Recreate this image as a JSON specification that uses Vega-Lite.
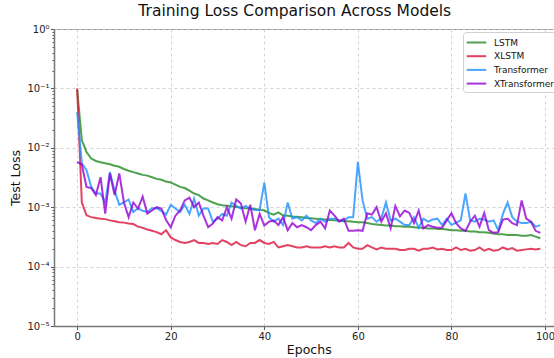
{
  "$schema": "https://vega.github.io/schema/vega-lite/v6.json",
  "width": 509.5,
  "height": 297,
  "autosize": {"type": "none"},
  "padding": {"left": 54, "top": 29, "right": 0, "bottom": 32},
  "background": "white",
  "title": {"text": "Training Loss Comparison Across Models", "font": "DejaVu Sans", "fontSize": 15.5, "fontWeight": "normal", "color": "#111", "offset": 5, "anchor": "middle", "frame": "group", "dx": -14},
  "data": {"values": [
    {"epoch":0,"model":"LSTM","loss":0.095},{"epoch":1,"model":"LSTM","loss":0.0134},{"epoch":2,"model":"LSTM","loss":0.0085},{"epoch":3,"model":"LSTM","loss":0.0066},{"epoch":4,"model":"LSTM","loss":0.006},{"epoch":5,"model":"LSTM","loss":0.0057},{"epoch":6,"model":"LSTM","loss":0.0055},{"epoch":7,"model":"LSTM","loss":0.0053},{"epoch":8,"model":"LSTM","loss":0.005},{"epoch":9,"model":"LSTM","loss":0.0048},
    {"epoch":10,"model":"LSTM","loss":0.0044},{"epoch":11,"model":"LSTM","loss":0.0041},{"epoch":12,"model":"LSTM","loss":0.0039},{"epoch":13,"model":"LSTM","loss":0.0037},{"epoch":14,"model":"LSTM","loss":0.0035},{"epoch":15,"model":"LSTM","loss":0.0034},{"epoch":16,"model":"LSTM","loss":0.0032},{"epoch":17,"model":"LSTM","loss":0.003},{"epoch":18,"model":"LSTM","loss":0.0029},{"epoch":19,"model":"LSTM","loss":0.0027},
    {"epoch":20,"model":"LSTM","loss":0.0026},{"epoch":21,"model":"LSTM","loss":0.0024},{"epoch":22,"model":"LSTM","loss":0.0022},{"epoch":23,"model":"LSTM","loss":0.0021},{"epoch":24,"model":"LSTM","loss":0.0019},{"epoch":25,"model":"LSTM","loss":0.0017},{"epoch":26,"model":"LSTM","loss":0.0016},{"epoch":27,"model":"LSTM","loss":0.0014},{"epoch":28,"model":"LSTM","loss":0.0013},{"epoch":29,"model":"LSTM","loss":0.0012},
    {"epoch":30,"model":"LSTM","loss":0.00112},{"epoch":31,"model":"LSTM","loss":0.00108},{"epoch":32,"model":"LSTM","loss":0.00106},{"epoch":33,"model":"LSTM","loss":0.00104},{"epoch":34,"model":"LSTM","loss":0.00101},{"epoch":35,"model":"LSTM","loss":0.00099},{"epoch":36,"model":"LSTM","loss":0.00096},{"epoch":37,"model":"LSTM","loss":0.00095},{"epoch":38,"model":"LSTM","loss":0.00093},{"epoch":39,"model":"LSTM","loss":0.00091},
    {"epoch":40,"model":"LSTM","loss":0.00088},{"epoch":41,"model":"LSTM","loss":0.0008},{"epoch":42,"model":"LSTM","loss":0.00075},{"epoch":43,"model":"LSTM","loss":0.00082},{"epoch":44,"model":"LSTM","loss":0.00073},{"epoch":45,"model":"LSTM","loss":0.00072},{"epoch":46,"model":"LSTM","loss":0.0007},{"epoch":47,"model":"LSTM","loss":0.00069},{"epoch":48,"model":"LSTM","loss":0.00068},{"epoch":49,"model":"LSTM","loss":0.00066},
    {"epoch":50,"model":"LSTM","loss":0.00065},{"epoch":51,"model":"LSTM","loss":0.00064},{"epoch":52,"model":"LSTM","loss":0.00063},{"epoch":53,"model":"LSTM","loss":0.00062},{"epoch":54,"model":"LSTM","loss":0.00061},{"epoch":55,"model":"LSTM","loss":0.0006},{"epoch":56,"model":"LSTM","loss":0.00059},{"epoch":57,"model":"LSTM","loss":0.00058},{"epoch":58,"model":"LSTM","loss":0.00058},{"epoch":59,"model":"LSTM","loss":0.00057},
    {"epoch":60,"model":"LSTM","loss":0.00056},{"epoch":61,"model":"LSTM","loss":0.00056},{"epoch":62,"model":"LSTM","loss":0.00054},{"epoch":63,"model":"LSTM","loss":0.00052},{"epoch":64,"model":"LSTM","loss":0.00051},{"epoch":65,"model":"LSTM","loss":0.0005},{"epoch":66,"model":"LSTM","loss":0.00049},{"epoch":67,"model":"LSTM","loss":0.00049},{"epoch":68,"model":"LSTM","loss":0.00048},{"epoch":69,"model":"LSTM","loss":0.00048},
    {"epoch":70,"model":"LSTM","loss":0.00047},{"epoch":71,"model":"LSTM","loss":0.00047},{"epoch":72,"model":"LSTM","loss":0.00046},{"epoch":73,"model":"LSTM","loss":0.00045},{"epoch":74,"model":"LSTM","loss":0.00045},{"epoch":75,"model":"LSTM","loss":0.00044},{"epoch":76,"model":"LSTM","loss":0.00044},{"epoch":77,"model":"LSTM","loss":0.00043},{"epoch":78,"model":"LSTM","loss":0.00043},{"epoch":79,"model":"LSTM","loss":0.00042},
    {"epoch":80,"model":"LSTM","loss":0.00041},{"epoch":81,"model":"LSTM","loss":0.00041},{"epoch":82,"model":"LSTM","loss":0.0004},{"epoch":83,"model":"LSTM","loss":0.0004},{"epoch":84,"model":"LSTM","loss":0.00039},{"epoch":85,"model":"LSTM","loss":0.00039},{"epoch":86,"model":"LSTM","loss":0.00038},{"epoch":87,"model":"LSTM","loss":0.00038},{"epoch":88,"model":"LSTM","loss":0.00037},{"epoch":89,"model":"LSTM","loss":0.00036},
    {"epoch":90,"model":"LSTM","loss":0.00035},{"epoch":91,"model":"LSTM","loss":0.00035},{"epoch":92,"model":"LSTM","loss":0.00034},{"epoch":93,"model":"LSTM","loss":0.00034},{"epoch":94,"model":"LSTM","loss":0.00034},{"epoch":95,"model":"LSTM","loss":0.00033},{"epoch":96,"model":"LSTM","loss":0.00033},{"epoch":97,"model":"LSTM","loss":0.00034},{"epoch":98,"model":"LSTM","loss":0.00032},{"epoch":99,"model":"LSTM","loss":0.0003},

    {"epoch":0,"model":"XLSTM","loss":0.1},{"epoch":1,"model":"XLSTM","loss":0.0012},{"epoch":2,"model":"XLSTM","loss":0.00073},{"epoch":3,"model":"XLSTM","loss":0.00068},{"epoch":4,"model":"XLSTM","loss":0.00066},{"epoch":5,"model":"XLSTM","loss":0.00064},{"epoch":6,"model":"XLSTM","loss":0.00063},{"epoch":7,"model":"XLSTM","loss":0.0006},{"epoch":8,"model":"XLSTM","loss":0.00058},{"epoch":9,"model":"XLSTM","loss":0.00056},
    {"epoch":10,"model":"XLSTM","loss":0.00055},{"epoch":11,"model":"XLSTM","loss":0.00053},{"epoch":12,"model":"XLSTM","loss":0.00052},{"epoch":13,"model":"XLSTM","loss":0.00047},{"epoch":14,"model":"XLSTM","loss":0.00045},{"epoch":15,"model":"XLSTM","loss":0.00042},{"epoch":16,"model":"XLSTM","loss":0.0004},{"epoch":17,"model":"XLSTM","loss":0.00038},{"epoch":18,"model":"XLSTM","loss":0.00035},{"epoch":19,"model":"XLSTM","loss":0.00041},
    {"epoch":20,"model":"XLSTM","loss":0.00031},{"epoch":21,"model":"XLSTM","loss":0.00028},{"epoch":22,"model":"XLSTM","loss":0.00026},{"epoch":23,"model":"XLSTM","loss":0.00025},{"epoch":24,"model":"XLSTM","loss":0.00026},{"epoch":25,"model":"XLSTM","loss":0.00028},{"epoch":26,"model":"XLSTM","loss":0.00025},{"epoch":27,"model":"XLSTM","loss":0.00025},{"epoch":28,"model":"XLSTM","loss":0.00024},{"epoch":29,"model":"XLSTM","loss":0.00025},
    {"epoch":30,"model":"XLSTM","loss":0.00024},{"epoch":31,"model":"XLSTM","loss":0.00028},{"epoch":32,"model":"XLSTM","loss":0.00026},{"epoch":33,"model":"XLSTM","loss":0.00023},{"epoch":34,"model":"XLSTM","loss":0.00026},{"epoch":35,"model":"XLSTM","loss":0.00023},{"epoch":36,"model":"XLSTM","loss":0.00022},{"epoch":37,"model":"XLSTM","loss":0.00025},{"epoch":38,"model":"XLSTM","loss":0.00025},{"epoch":39,"model":"XLSTM","loss":0.00028},
    {"epoch":40,"model":"XLSTM","loss":0.00025},{"epoch":41,"model":"XLSTM","loss":0.00024},{"epoch":42,"model":"XLSTM","loss":0.00026},{"epoch":43,"model":"XLSTM","loss":0.00021},{"epoch":44,"model":"XLSTM","loss":0.00022},{"epoch":45,"model":"XLSTM","loss":0.00023},{"epoch":46,"model":"XLSTM","loss":0.00022},{"epoch":47,"model":"XLSTM","loss":0.00021},{"epoch":48,"model":"XLSTM","loss":0.00021},{"epoch":49,"model":"XLSTM","loss":0.00022},
    {"epoch":50,"model":"XLSTM","loss":0.00021},{"epoch":51,"model":"XLSTM","loss":0.00021},{"epoch":52,"model":"XLSTM","loss":0.00021},{"epoch":53,"model":"XLSTM","loss":0.00022},{"epoch":54,"model":"XLSTM","loss":0.00021},{"epoch":55,"model":"XLSTM","loss":0.00022},{"epoch":56,"model":"XLSTM","loss":0.00021},{"epoch":57,"model":"XLSTM","loss":0.00021},{"epoch":58,"model":"XLSTM","loss":0.00025},{"epoch":59,"model":"XLSTM","loss":0.00021},
    {"epoch":60,"model":"XLSTM","loss":0.0002},{"epoch":61,"model":"XLSTM","loss":0.0002},{"epoch":62,"model":"XLSTM","loss":0.00023},{"epoch":63,"model":"XLSTM","loss":0.00021},{"epoch":64,"model":"XLSTM","loss":0.000195},{"epoch":65,"model":"XLSTM","loss":0.00021},{"epoch":66,"model":"XLSTM","loss":0.0002},{"epoch":67,"model":"XLSTM","loss":0.0002},{"epoch":68,"model":"XLSTM","loss":0.0002},{"epoch":69,"model":"XLSTM","loss":0.00019},
    {"epoch":70,"model":"XLSTM","loss":0.00019},{"epoch":71,"model":"XLSTM","loss":0.0002},{"epoch":72,"model":"XLSTM","loss":0.0002},{"epoch":73,"model":"XLSTM","loss":0.000185},{"epoch":74,"model":"XLSTM","loss":0.0002},{"epoch":75,"model":"XLSTM","loss":0.0002},{"epoch":76,"model":"XLSTM","loss":0.00021},{"epoch":77,"model":"XLSTM","loss":0.000195},{"epoch":78,"model":"XLSTM","loss":0.0002},{"epoch":79,"model":"XLSTM","loss":0.00019},
    {"epoch":80,"model":"XLSTM","loss":0.00019},{"epoch":81,"model":"XLSTM","loss":0.00021},{"epoch":82,"model":"XLSTM","loss":0.00019},{"epoch":83,"model":"XLSTM","loss":0.0002},{"epoch":84,"model":"XLSTM","loss":0.000185},{"epoch":85,"model":"XLSTM","loss":0.00019},{"epoch":86,"model":"XLSTM","loss":0.00021},{"epoch":87,"model":"XLSTM","loss":0.000185},{"epoch":88,"model":"XLSTM","loss":0.0002},{"epoch":89,"model":"XLSTM","loss":0.000185},
    {"epoch":90,"model":"XLSTM","loss":0.00019},{"epoch":91,"model":"XLSTM","loss":0.00021},{"epoch":92,"model":"XLSTM","loss":0.000195},{"epoch":93,"model":"XLSTM","loss":0.000205},{"epoch":94,"model":"XLSTM","loss":0.000185},{"epoch":95,"model":"XLSTM","loss":0.00019},{"epoch":96,"model":"XLSTM","loss":0.000195},{"epoch":97,"model":"XLSTM","loss":0.0002},{"epoch":98,"model":"XLSTM","loss":0.000195},{"epoch":99,"model":"XLSTM","loss":0.0002},

    {"epoch":0,"model":"Transformer","loss":0.04},{"epoch":1,"model":"Transformer","loss":0.0055},{"epoch":2,"model":"Transformer","loss":0.0042},{"epoch":3,"model":"Transformer","loss":0.0022},{"epoch":4,"model":"Transformer","loss":0.0017},{"epoch":5,"model":"Transformer","loss":0.0017},{"epoch":6,"model":"Transformer","loss":0.0012},{"epoch":7,"model":"Transformer","loss":0.0039},{"epoch":8,"model":"Transformer","loss":0.0019},{"epoch":9,"model":"Transformer","loss":0.0011},
    {"epoch":10,"model":"Transformer","loss":0.0012},{"epoch":11,"model":"Transformer","loss":0.00135},{"epoch":12,"model":"Transformer","loss":0.00083},{"epoch":13,"model":"Transformer","loss":0.00096},{"epoch":14,"model":"Transformer","loss":0.00087},{"epoch":15,"model":"Transformer","loss":0.00083},{"epoch":16,"model":"Transformer","loss":0.00096},{"epoch":17,"model":"Transformer","loss":0.00096},{"epoch":18,"model":"Transformer","loss":0.00087},{"epoch":19,"model":"Transformer","loss":0.00075},
    {"epoch":20,"model":"Transformer","loss":0.0011},{"epoch":21,"model":"Transformer","loss":0.00095},{"epoch":22,"model":"Transformer","loss":0.00083},{"epoch":23,"model":"Transformer","loss":0.0011},{"epoch":24,"model":"Transformer","loss":0.00077},{"epoch":25,"model":"Transformer","loss":0.0014},{"epoch":26,"model":"Transformer","loss":0.00072},{"epoch":27,"model":"Transformer","loss":0.00095},{"epoch":28,"model":"Transformer","loss":0.00095},{"epoch":29,"model":"Transformer","loss":0.00057},
    {"epoch":30,"model":"Transformer","loss":0.00064},{"epoch":31,"model":"Transformer","loss":0.00077},{"epoch":32,"model":"Transformer","loss":0.00072},{"epoch":33,"model":"Transformer","loss":0.0012},{"epoch":34,"model":"Transformer","loss":0.00105},{"epoch":35,"model":"Transformer","loss":0.00095},{"epoch":36,"model":"Transformer","loss":0.00105},{"epoch":37,"model":"Transformer","loss":0.00095},{"epoch":38,"model":"Transformer","loss":0.0009},{"epoch":39,"model":"Transformer","loss":0.0009},
    {"epoch":40,"model":"Transformer","loss":0.0026},{"epoch":41,"model":"Transformer","loss":0.00068},{"epoch":42,"model":"Transformer","loss":0.00057},{"epoch":43,"model":"Transformer","loss":0.00064},{"epoch":44,"model":"Transformer","loss":0.0005},{"epoch":45,"model":"Transformer","loss":0.0012},{"epoch":46,"model":"Transformer","loss":0.00064},{"epoch":47,"model":"Transformer","loss":0.00068},{"epoch":48,"model":"Transformer","loss":0.0006},{"epoch":49,"model":"Transformer","loss":0.00072},
    {"epoch":50,"model":"Transformer","loss":0.0006},{"epoch":51,"model":"Transformer","loss":0.00054},{"epoch":52,"model":"Transformer","loss":0.00064},{"epoch":53,"model":"Transformer","loss":0.00057},{"epoch":54,"model":"Transformer","loss":0.00064},{"epoch":55,"model":"Transformer","loss":0.00064},{"epoch":56,"model":"Transformer","loss":0.0006},{"epoch":57,"model":"Transformer","loss":0.0006},{"epoch":58,"model":"Transformer","loss":0.00068},{"epoch":59,"model":"Transformer","loss":0.00068},
    {"epoch":60,"model":"Transformer","loss":0.0058},{"epoch":61,"model":"Transformer","loss":0.0013},{"epoch":62,"model":"Transformer","loss":0.00064},{"epoch":63,"model":"Transformer","loss":0.00068},{"epoch":64,"model":"Transformer","loss":0.00057},{"epoch":65,"model":"Transformer","loss":0.00065},{"epoch":66,"model":"Transformer","loss":0.0012},{"epoch":67,"model":"Transformer","loss":0.0006},{"epoch":68,"model":"Transformer","loss":0.00064},{"epoch":69,"model":"Transformer","loss":0.00057},
    {"epoch":70,"model":"Transformer","loss":0.0005},{"epoch":71,"model":"Transformer","loss":0.0005},{"epoch":72,"model":"Transformer","loss":0.00068},{"epoch":73,"model":"Transformer","loss":0.00045},{"epoch":74,"model":"Transformer","loss":0.00064},{"epoch":75,"model":"Transformer","loss":0.00057},{"epoch":76,"model":"Transformer","loss":0.00062},{"epoch":77,"model":"Transformer","loss":0.00064},{"epoch":78,"model":"Transformer","loss":0.0005},{"epoch":79,"model":"Transformer","loss":0.00064},
    {"epoch":80,"model":"Transformer","loss":0.0005},{"epoch":81,"model":"Transformer","loss":0.00055},{"epoch":82,"model":"Transformer","loss":0.0006},{"epoch":83,"model":"Transformer","loss":0.0017},{"epoch":84,"model":"Transformer","loss":0.0006},{"epoch":85,"model":"Transformer","loss":0.00057},{"epoch":86,"model":"Transformer","loss":0.00064},{"epoch":87,"model":"Transformer","loss":0.00062},{"epoch":88,"model":"Transformer","loss":0.00057},{"epoch":89,"model":"Transformer","loss":0.0006},
    {"epoch":90,"model":"Transformer","loss":0.00041},{"epoch":91,"model":"Transformer","loss":0.00077},{"epoch":92,"model":"Transformer","loss":0.0012},{"epoch":93,"model":"Transformer","loss":0.00068},{"epoch":94,"model":"Transformer","loss":0.00057},{"epoch":95,"model":"Transformer","loss":0.00054},{"epoch":96,"model":"Transformer","loss":0.00054},{"epoch":97,"model":"Transformer","loss":0.00057},{"epoch":98,"model":"Transformer","loss":0.00047},{"epoch":99,"model":"Transformer","loss":0.0005},

    {"epoch":0,"model":"XTransformer","loss":0.0058},{"epoch":1,"model":"XTransformer","loss":0.0052},{"epoch":2,"model":"XTransformer","loss":0.0022},{"epoch":3,"model":"XTransformer","loss":0.0021},{"epoch":4,"model":"XTransformer","loss":0.0016},{"epoch":5,"model":"XTransformer","loss":0.0032},{"epoch":6,"model":"XTransformer","loss":0.00078},{"epoch":7,"model":"XTransformer","loss":0.0037},{"epoch":8,"model":"XTransformer","loss":0.0016},{"epoch":9,"model":"XTransformer","loss":0.0037},
    {"epoch":10,"model":"XTransformer","loss":0.0012},{"epoch":11,"model":"XTransformer","loss":0.00068},{"epoch":12,"model":"XTransformer","loss":0.0012},{"epoch":13,"model":"XTransformer","loss":0.00095},{"epoch":14,"model":"XTransformer","loss":0.0015},{"epoch":15,"model":"XTransformer","loss":0.00078},{"epoch":16,"model":"XTransformer","loss":0.00088},{"epoch":17,"model":"XTransformer","loss":0.001},{"epoch":18,"model":"XTransformer","loss":0.00095},{"epoch":19,"model":"XTransformer","loss":0.00061},
    {"epoch":20,"model":"XTransformer","loss":0.00046},{"epoch":21,"model":"XTransformer","loss":0.00072},{"epoch":22,"model":"XTransformer","loss":0.00088},{"epoch":23,"model":"XTransformer","loss":0.0013},{"epoch":24,"model":"XTransformer","loss":0.00145},{"epoch":25,"model":"XTransformer","loss":0.001},{"epoch":26,"model":"XTransformer","loss":0.0012},{"epoch":27,"model":"XTransformer","loss":0.00072},{"epoch":28,"model":"XTransformer","loss":0.00046},{"epoch":29,"model":"XTransformer","loss":0.00053},
    {"epoch":30,"model":"XTransformer","loss":0.00068},{"epoch":31,"model":"XTransformer","loss":0.0006},{"epoch":32,"model":"XTransformer","loss":0.001},{"epoch":33,"model":"XTransformer","loss":0.00064},{"epoch":34,"model":"XTransformer","loss":0.00135},{"epoch":35,"model":"XTransformer","loss":0.00115},{"epoch":36,"model":"XTransformer","loss":0.00057},{"epoch":37,"model":"XTransformer","loss":0.0011},{"epoch":38,"model":"XTransformer","loss":0.00041},{"epoch":39,"model":"XTransformer","loss":0.00077},
    {"epoch":40,"model":"XTransformer","loss":0.00049},{"epoch":41,"model":"XTransformer","loss":0.00057},{"epoch":42,"model":"XTransformer","loss":0.0006},{"epoch":43,"model":"XTransformer","loss":0.0005},{"epoch":44,"model":"XTransformer","loss":0.00068},{"epoch":45,"model":"XTransformer","loss":0.00041},{"epoch":46,"model":"XTransformer","loss":0.00054},{"epoch":47,"model":"XTransformer","loss":0.00046},{"epoch":48,"model":"XTransformer","loss":0.0005},{"epoch":49,"model":"XTransformer","loss":0.00046},
    {"epoch":50,"model":"XTransformer","loss":0.00041},{"epoch":51,"model":"XTransformer","loss":0.0005},{"epoch":52,"model":"XTransformer","loss":0.00057},{"epoch":53,"model":"XTransformer","loss":0.00044},{"epoch":54,"model":"XTransformer","loss":0.00088},{"epoch":55,"model":"XTransformer","loss":0.00072},{"epoch":56,"model":"XTransformer","loss":0.00057},{"epoch":57,"model":"XTransformer","loss":0.00064},{"epoch":58,"model":"XTransformer","loss":0.0004},{"epoch":59,"model":"XTransformer","loss":0.0004},
    {"epoch":60,"model":"XTransformer","loss":0.00041},{"epoch":61,"model":"XTransformer","loss":0.0004},{"epoch":62,"model":"XTransformer","loss":0.00079},{"epoch":63,"model":"XTransformer","loss":0.00075},{"epoch":64,"model":"XTransformer","loss":0.001},{"epoch":65,"model":"XTransformer","loss":0.00057},{"epoch":66,"model":"XTransformer","loss":0.00079},{"epoch":67,"model":"XTransformer","loss":0.00044},{"epoch":68,"model":"XTransformer","loss":0.00105},{"epoch":69,"model":"XTransformer","loss":0.0007},
    {"epoch":70,"model":"XTransformer","loss":0.00088},{"epoch":71,"model":"XTransformer","loss":0.0008},{"epoch":72,"model":"XTransformer","loss":0.00054},{"epoch":73,"model":"XTransformer","loss":0.00088},{"epoch":74,"model":"XTransformer","loss":0.00044},{"epoch":75,"model":"XTransformer","loss":0.0005},{"epoch":76,"model":"XTransformer","loss":0.00047},{"epoch":77,"model":"XTransformer","loss":0.00045},{"epoch":78,"model":"XTransformer","loss":0.00045},{"epoch":79,"model":"XTransformer","loss":0.0006},
    {"epoch":80,"model":"XTransformer","loss":0.00079},{"epoch":81,"model":"XTransformer","loss":0.00054},{"epoch":82,"model":"XTransformer","loss":0.00044},{"epoch":83,"model":"XTransformer","loss":0.0004},{"epoch":84,"model":"XTransformer","loss":0.00057},{"epoch":85,"model":"XTransformer","loss":0.00072},{"epoch":86,"model":"XTransformer","loss":0.00047},{"epoch":87,"model":"XTransformer","loss":0.0008},{"epoch":88,"model":"XTransformer","loss":0.00041},{"epoch":89,"model":"XTransformer","loss":0.00037},
    {"epoch":90,"model":"XTransformer","loss":0.00038},{"epoch":91,"model":"XTransformer","loss":0.00062},{"epoch":92,"model":"XTransformer","loss":0.00064},{"epoch":93,"model":"XTransformer","loss":0.00054},{"epoch":94,"model":"XTransformer","loss":0.0005},{"epoch":95,"model":"XTransformer","loss":0.0013},{"epoch":96,"model":"XTransformer","loss":0.00064},{"epoch":97,"model":"XTransformer","loss":0.00057},{"epoch":98,"model":"XTransformer","loss":0.0004},{"epoch":99,"model":"XTransformer","loss":0.00037}
  ]},
  "mark": {"type": "line", "strokeWidth": 2, "opacity": 0.8},
  "encoding": {
    "x": {
      "field": "epoch", "type": "quantitative",
      "scale": {"domain": [-4.95, 103.95], "nice": false, "zero": false},
      "axis": {"title": "Epochs", "values": [0, 20, 40, 60, 80, 100], "format": "d", "titlePadding": 2}
    },
    "y": {
      "field": "loss", "type": "quantitative",
      "scale": {"type": "log", "domain": [0.00001, 1], "nice": false, "zero": false},
      "axis": {
        "title": "Test Loss",
        "titlePadding": 4,
        "values": [0.00001,0.00002,0.00003,0.00004,0.00005,0.00006,0.00007,0.00008,0.00009,0.0001,0.0002,0.0003,0.0004,0.0005,0.0006,0.0007,0.0008,0.0009,0.001,0.002,0.003,0.004,0.005,0.006,0.007,0.008,0.009,0.01,0.02,0.03,0.04,0.05,0.06,0.07,0.08,0.09,0.1,0.2,0.3,0.4,0.5,0.6,0.7,0.8,0.9,1],
        "labelExpr": "abs(log(datum.value)/LN10 - round(log(datum.value)/LN10)) < 0.000001 ? '10' + ['⁻⁵','⁻⁴','⁻³','⁻²','⁻¹','⁰'][round(log(datum.value)/LN10) + 5] : ''",
        "tickSize": {"condition": {"test": "abs(log(datum.value)/LN10 - round(log(datum.value)/LN10)) < 0.000001", "value": 3.5}, "value": 2},
        "gridOpacity": {"condition": {"test": "abs(log(datum.value)/LN10 - round(log(datum.value)/LN10)) < 0.000001", "value": 1}, "value": 0}
      }
    },
    "color": {
      "field": "model", "type": "nominal",
      "scale": {"domain": ["LSTM", "XLSTM", "Transformer", "XTransformer"], "range": ["#228B22", "#DC143C", "#1E90FF", "#9400D3"]},
      "legend": {
        "title": null, "orient": "none", "legendX": 409, "legendY": 3,
        "symbolType": "M-1.5,0H1.5", "symbolSize": 169, "symbolStrokeWidth": 2, "symbolOpacity": 0.8,
        "symbolOffset": 3, "labelOffset": 10, "rowPadding": 0.7, "padding": 3,
        "strokeColor": "#d0d0d0", "fillColor": "white", "cornerRadius": 3,
        "labelFont": "DejaVu Sans", "labelFontSize": 9, "labelColor": "#111"
      }
    }
  },
  "config": {
    "view": {"stroke": "#999", "strokeWidth": 1},
    "axis": {
      "labelFont": "DejaVu Sans", "labelFontSize": 10, "labelColor": "#222",
      "titleFont": "DejaVu Sans", "titleFontSize": 12.5, "titleFontWeight": "normal", "titleColor": "#111",
      "domainColor": "#777", "domainWidth": 1.5,
      "tickColor": "#555", "tickSize": 3.5, "labelPadding": 1.5,
      "grid": true, "gridColor": "#c8c8c8", "gridDash": [3, 3], "gridWidth": 0.8
    }
  }
}
